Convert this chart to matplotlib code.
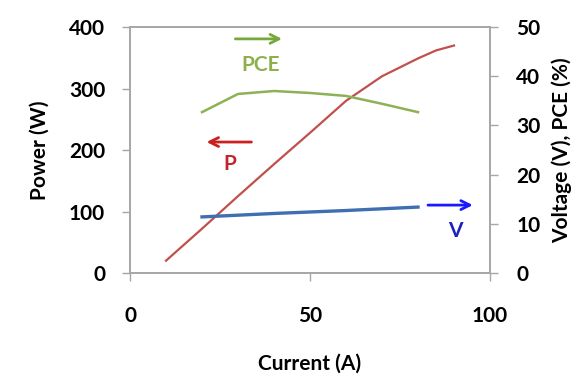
import numpy as np
import matplotlib.pyplot as plt

# data
current_p = [10, 20, 30, 40, 50, 60, 70, 80, 85, 90]
power = [20, 72, 125, 177, 228, 280, 320, 349, 362, 370]

current_pce = [20, 30, 40, 50, 60, 70, 80]
pce = [32.7, 36.4, 37.0, 36.6, 36.0, 34.4, 32.7]

current_v = [20, 40, 60, 80]
voltage = [11.4, 12.1, 12.7, 13.4]

xticks = [0, 50, 100]
yticks_left = [0, 100, 200, 300, 400]
yticks_right = [0, 10, 20, 30, 40, 50]

plt.rcParams['font.family'] = ['Lato', 'DejaVu Sans']
plt.rcParams['font.weight'] = 'bold'

spine_col = '#a6a6a6'
red_line = '#c0504d'
green_line = '#8db255'
blue_line = '#3f6fb0'
fs = 15

fig = plt.figure(figsize=(5.76, 3.76), dpi=100)
ax = fig.add_axes([0.2257, 0.274, 0.625, 0.654])
ax2 = ax.twinx()

ax.plot(current_p, power, color=red_line, lw=1.6)
ax2.plot(current_pce, pce, color=green_line, lw=1.8)
ax2.plot(current_v, voltage, color=blue_line, lw=2.4)

ax.set_xlim(0, 100)
ax.set_ylim(0, 400)
ax2.set_ylim(0, 50)
ax.set_xticks(xticks)
ax.set_yticks(yticks_left)
ax2.set_yticks(yticks_right)

for a in (ax, ax2):
    for s in a.spines.values():
        s.set_color(spine_col)
        s.set_linewidth(1.2)
    a.tick_params(colors=spine_col, labelcolor='black', labelsize=fs, length=6, width=1)
ax.tick_params(axis='y', pad=12)
ax2.tick_params(axis='y', pad=13)
ax.tick_params(axis='x', pad=18)

ax.set_xlabel('Current (A)', fontsize=fs, fontweight='bold', labelpad=20)
ax.set_ylabel('Power (W)', fontsize=fs, fontweight='bold', labelpad=14)
ax2.set_ylabel('Voltage (V), PCE (%)', fontsize=fs, fontweight='bold', labelpad=8)

# annotations with arrows
ax2.annotate('', xy=(43, 47.6), xytext=(28.5, 47.6),
             arrowprops=dict(arrowstyle='->', color='#77a83b', lw=2, mutation_scale=16))
ax2.text(36.4, 42.3, 'PCE', color='#8db04f', fontsize=fs, fontweight='bold', ha='center', va='center')

ax.annotate('', xy=(20.5, 213), xytext=(34.5, 213),
            arrowprops=dict(arrowstyle='->', color='#cc1f1f', lw=2, mutation_scale=16))
ax.text(27.8, 178, 'P', color='#c0272d', fontsize=fs, fontweight='bold', ha='center', va='center')

ax2.annotate('', xy=(96, 13.8), xytext=(82, 13.8),
             arrowprops=dict(arrowstyle='->', color='#1a1aff', lw=2, mutation_scale=16))
ax2.text(90.5, 8.5, 'V', color='#2020c0', fontsize=fs, fontweight='bold', ha='center', va='center')

fig.savefig('out.png', dpi=100)
